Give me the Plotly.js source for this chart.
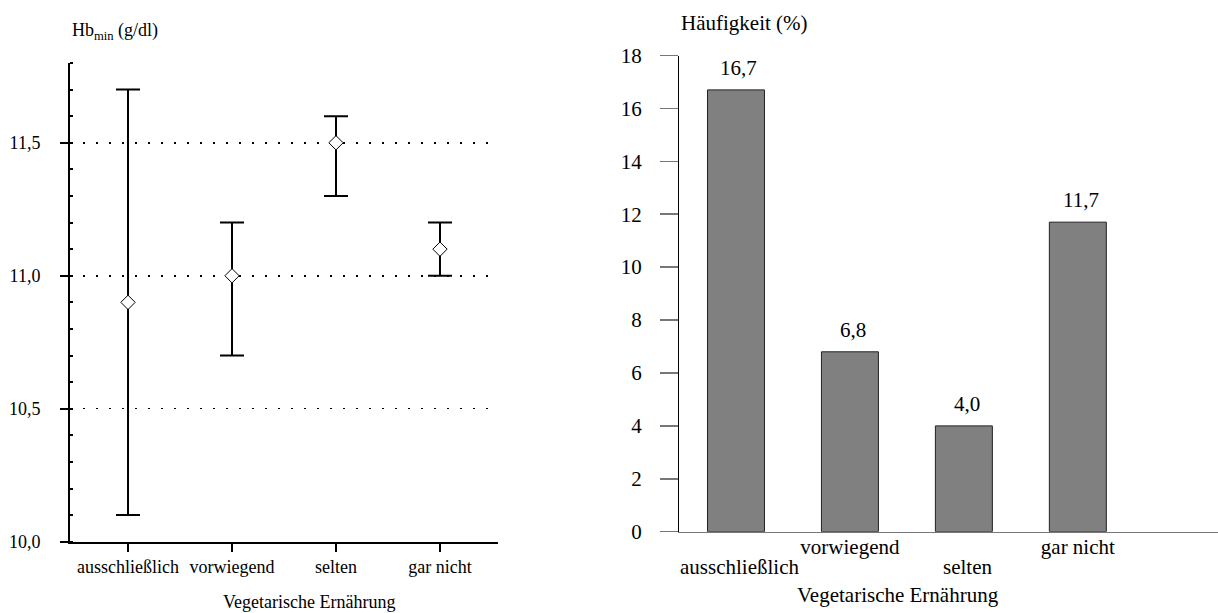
<!DOCTYPE html>
<html><head><meta charset="utf-8">
<script src="https://cdn.plot.ly/plotly-3.0.1.min.js"></script>
<style>html,body{margin:0;padding:0;background:#fff}</style>
</head><body><div id="chart" style="width:1218px;height:613px"></div>
<script>
const categories = ["ausschließlich", "vorwiegend", "selten", "gar nicht"];
const hbMean = [10.9, 11.0, 11.5, 11.1];
const hbLow = [10.1, 10.7, 11.3, 11.0];
const hbHigh = [11.7, 11.2, 11.6, 11.2];
const hbTicks = [10.0, 10.5, 11.0, 11.5];
const hbTickLabels = ["10,0", "10,5", "11,0", "11,5"];
const freqValues = [16.7, 6.8, 4.0, 11.7];
const freqTicks = [0, 2, 4, 6, 8, 10, 12, 14, 16, 18];
// staggered category labels of the right chart: upper row on the axis, lower row below it
const upperRow = [categories[1], categories[3]];
const lowerRow = [categories[0], categories[2]];

const W = 1218, H = 613;
const FONT = "Liberation Serif, Times New Roman, serif";
const fmt = v => v.toFixed(1).replace('.', ',');

const traces = [
  {
    type: 'scatter', mode: 'markers', xaxis: 'x', yaxis: 'y',
    x: categories, y: hbMean,
    marker: {symbol: 'diamond', size: 11, color: '#fff', line: {color: '#000', width: 1}},
    error_y: {
      type: 'data', symmetric: false,
      array: hbHigh.map((h, i) => h - hbMean[i]),
      arrayminus: hbLow.map((l, i) => hbMean[i] - l),
      color: '#000', thickness: 2, width: 12
    },
    hoverinfo: 'skip', showlegend: false
  },
  {
    type: 'bar', xaxis: 'x2', yaxis: 'y2',
    x: categories, y: freqValues, width: 0.5,
    marker: {color: '#808080', line: {color: '#222', width: 1}},
    hoverinfo: 'skip', showlegend: false
  }
];

const annotations = [
  {xref: 'paper', yref: 'paper', x: 70 / W, y: 1 - 32 / H, xanchor: 'left', yanchor: 'middle',
   text: 'Hb<sub>min</sub> (g/dl)', showarrow: false, font: {family: FONT, size: 18, color: '#000'}},
  {xref: 'paper', yref: 'paper', x: 309 / W, y: 1 - 602 / H, xanchor: 'center', yanchor: 'middle',
   text: 'Vegetarische Ernährung', showarrow: false, font: {family: FONT, size: 18, color: '#000'}},
  {xref: 'paper', yref: 'paper', x: 679 / W, y: 1 - 23 / H, xanchor: 'left', yanchor: 'middle',
   text: 'Häufigkeit (%)', showarrow: false, font: {family: FONT, size: 21, color: '#000'}},
  {xref: 'paper', yref: 'paper', x: 898 / W, y: 1 - 595 / H, xanchor: 'center', yanchor: 'middle',
   text: 'Vegetarische Ernährung', showarrow: false, font: {family: FONT, size: 21, color: '#000'}}
];
categories.forEach((c, i) => {
  annotations.push({xref: 'x2', yref: 'y2', x: c, y: freqValues[i], xanchor: 'center', yanchor: 'bottom',
    yshift: 8, xshift: 3, text: fmt(freqValues[i]), showarrow: false, font: {family: FONT, size: 21, color: '#000'}});
});
lowerRow.forEach(c => {
  annotations.push({xref: 'x2', yref: 'paper', x: c, y: 1 - 567 / H, xanchor: 'center', yanchor: 'middle',
    xshift: 4, text: c, showarrow: false, font: {family: FONT, size: 21, color: '#000'}});
});

const layout = {
  width: W, height: H,
  margin: {l: 0, r: 0, t: 0, b: 0},
  paper_bgcolor: '#fff', plot_bgcolor: 'rgba(0,0,0,0)',
  font: {family: FONT, color: '#000'},
  showlegend: false,
  xaxis: {
    domain: [70 / W, 498 / W], anchor: 'y', type: 'category', range: [-0.558, 3.558],
    showline: true, linecolor: '#000', linewidth: 2,
    ticks: 'outside', ticklen: 8, tickwidth: 2, tickcolor: '#000',
    tickfont: {family: FONT, size: 18, color: '#000'}, ticklabelstandoff: 0,
    showgrid: false, zeroline: false, fixedrange: true
  },
  yaxis: {
    domain: [1 - 541.7 / H, 1 - 63 / H], anchor: 'x', range: [10, 11.8],
    tickmode: 'array', tickvals: hbTicks, ticktext: hbTickLabels,
    showline: true, linecolor: '#000', linewidth: 2,
    ticks: 'outside', ticklen: 8, tickwidth: 2, tickcolor: '#000',
    tickfont: {family: FONT, size: 18, color: '#000'}, ticklabelstandoff: 16,
    showgrid: true, gridcolor: '#000', gridwidth: 1.5, griddash: '2px,11px',
    minor: {ticks: 'inside', tickmode: 'linear', tick0: 10, dtick: 0.1, ticklen: 3, tickwidth: 2, tickcolor: '#000', showgrid: false},
    zeroline: false, fixedrange: true
  },
  xaxis2: {
    domain: [679 / W, 1], anchor: 'y2', type: 'category', range: [-0.5, 4.23],
    showline: true, linecolor: '#777', linewidth: 1.5, ticks: '',
    tickmode: 'array', tickvals: upperRow, ticktext: upperRow,
    tickfont: {family: FONT, size: 21, color: '#000'}, ticklabelstandoff: -4,
    showgrid: false, zeroline: false, fixedrange: true
  },
  yaxis2: {
    domain: [1 - 531.7 / H, 1 - 55.5 / H], anchor: 'x2', range: [0, 18],
    tickmode: 'array', tickvals: freqTicks, ticktext: freqTicks.map(String),
    showline: true, linecolor: '#000', linewidth: 1,
    ticks: 'outside', ticklen: 18, tickwidth: 1.5, tickcolor: '#777',
    tickfont: {family: FONT, size: 21, color: '#000'}, ticklabelstandoff: 14,
    showgrid: false, zeroline: false, fixedrange: true
  },
  annotations: annotations
};

Plotly.newPlot('chart', traces, layout, {displayModeBar: false, staticPlot: true});
</script>
</body></html>
